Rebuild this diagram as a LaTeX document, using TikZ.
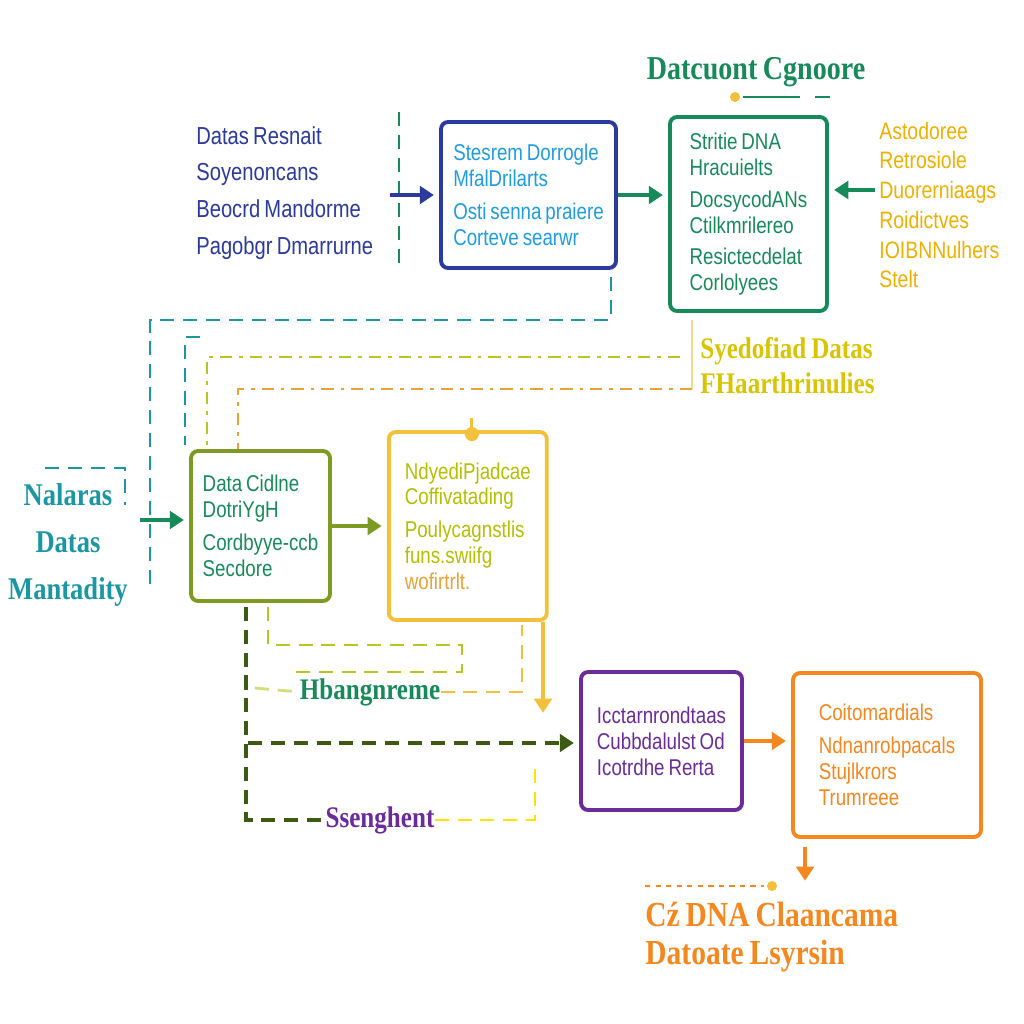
\documentclass[tikz,border=0pt]{standalone}
\usepackage{fontspec}
\usepackage{xcolor}
\usepackage{tikz}
\usetikzlibrary{calc, positioning, arrows.meta}
\setmainfont{Liberation Sans}
\newfontfamily\boxfont{Liberation Sans}[FakeStretch=0.82, WordSpace=0.75]
\newfontfamily\headfont{Liberation Serif}[FakeStretch=0.84, WordSpace=0.8]
\definecolor{dsblue}{HTML}{2B3A9C}
\definecolor{dscyan}{HTML}{1E9DE0}
\definecolor{dsgreen}{HTML}{178A5A}
\definecolor{dsteal}{HTML}{1A97A3}
\definecolor{dsolive}{HTML}{7D9B22}
\definecolor{dsdark}{HTML}{3D5A14}
\definecolor{dslime}{HTML}{B5C723}
\definecolor{dsyellow}{HTML}{F2C03A}
\definecolor{dsgold}{HTML}{F0B000}
\definecolor{dssynth}{HTML}{D8C400}
\definecolor{dspurple}{HTML}{6B2C9A}
\definecolor{dsorange}{HTML}{F5871F}
\definecolor{dsrefine}{HTML}{B3C000}
\definecolor{dswarm}{HTML}{E8A235}

\begin{document}
\begin{tikzpicture}[
  x=0.02cm, y=-0.02cm,
  box/.style={draw, rounded corners=4pt, line width=2.2pt, fill=white, inner xsep=0.2cm, inner ysep=0pt, align=left, font=\boxfont\fontsize{13}{14.7}\selectfont},
  freetxt/.style={align=left, inner sep=0pt, font=\boxfont\fontsize{14}{21}\selectfont},
  head/.style={inner sep=0pt, font=\headfont\bfseries\fontsize{17}{20}\selectfont},
  arr/.style={-{Triangle[length=8pt, width=10pt]}, line width=2.6pt, shorten >=3pt},
  dline/.style={line width=1.6pt, dash pattern=on 8pt off 5pt},
  dotline/.style={line width=1.6pt, dash pattern=on 7pt off 4pt on 2pt off 4pt}
]
\path[use as bounding box, fill=white] (0,0) rectangle (1024,1024);

\node[head, text=dsgreen, font=\headfont\bfseries\fontsize{19}{22}\selectfont] (title) at (756,72) {Datcuont Cgnoore};
\node[freetxt, text=dsblue, anchor=west] (sources) at (196,193) {Datas Resnait\\Soyenoncans\\Beocrd Mandorme\\Pagobgr Dmarrurne};

\node[box, draw=dsblue, text=dscyan, minimum width=3.5cm, minimum height=2.92cm] (engine) at (528.5,195) {Stesrem Dorrogle\\MfalDrilarts\\[4pt]Osti senna praiere\\Corteve searwr};
\node[box, draw=dsgreen, text=dsgreen, minimum width=3.14cm, minimum height=3.88cm] (dna) at (748.5,214) {Stritie DNA\\Hracuielts\\[4pt]DocsycodANs\\Ctilkmrilereo\\[3pt]Resictecdelat\\Corlolyees};
\node[freetxt, text=dsgold, anchor=west, font=\boxfont\fontsize{13.5}{16.9}\selectfont] (notes) at (879,205) {Astodoree\\Retrosiole\\Duorerniaags\\Roidictves\\IOIBNNulhers\\Stelt};

\node[head, text=dssynth, anchor=west, align=left, font=\headfont\bfseries\fontsize{17}{19.8}\selectfont] (synth) at (700,366) {Syedofiad Datas\\FHaarthrinulies};
\node[head, text=dsteal, align=center, font=\headfont\bfseries\fontsize{18}{26.6}\selectfont] (inputs) at (68,545) {Nalaras\\Datas\\Mantadity};

\node[box, draw=dsolive, text=dsgreen, minimum width=2.78cm, minimum height=3cm] (olive) at (260.5,526) {Data Cidlne\\DotriYgH\\[4pt]Cordbyye-ccb\\Secdore};
\node[box, draw=dsyellow, text=dsrefine, minimum width=3.16cm, minimum height=3.76cm, right=1.1cm of olive] (refine) {NdyediPjadcae\\Coffivatading\\[4pt]Poulycagnstlis\\funs.swiifg\\{\color{dswarm}wofirtrlt.}};

\node[head, text=dsgreen] (hbang) at (370,692) {Hbangnreme};
\node[head, text=dspurple] (ssen) at (380,820) {Ssenghent};

\node[box, draw=dspurple, text=dspurple, minimum width=3.22cm, minimum height=2.76cm] (merge) at (661.5,741) {Icctarnrondtaas\\Cubbdalulst Od\\Icotrdhe Rerta};
\node[box, draw=dsorange, text=dsorange, minimum width=3.76cm, minimum height=3.28cm] (outbox) at (887,755) {Coitomardials\\[4pt]Ndnanrobpacals\\Stujlkrors\\Trumreee};
\node[head, text=dsorange, anchor=west, align=left, font=\headfont\bfseries\fontsize{20}{22}\selectfont] (result) at (645,937) {Cź DNA Claancama\\Datoate Lsyrsin};

\coordinate (srcin) at (390,195);
\coordinate (notein) at (875,190);
\coordinate (inarr) at (140,520);
\coordinate (tealend) at (150,585);
\coordinate (split) at (248,743);
\coordinate (ydown) at (543,718);
\coordinate (odown) at (805,886);

\fill[dsyellow] (735,97) circle (0.1cm);
\draw[dsgreen, line width=1.5pt] (743,97) -- (800,97) (815,97) -- (830,97);
\draw[dline, dsgreen] (399,112) -- (399,265);

\draw[arr, dsblue] (srcin) -- (srcin -| engine.west);
\draw[arr, dsgreen] (engine) -- (engine -| dna.west);
\draw[arr, dsgreen] (notein) -- (notein -| dna.east);

\draw[dline, dsteal] ($(engine.south east)+(-7,7)$) |- (150,320) -- (tealend);
\draw[dline, dsteal] (200,337) -| (185,445);
\draw[dotline, dslime] (680,357) -| ($(olive.north west)+(18,0)$);
\draw[line width=1.2pt, dsyellow!60] (692,320) -- (692,389);
\draw[dotline, dswarm] (692,389) -| ($(olive.north west)+(49,0)$);

\draw[dline, dsteal] (45,468) -| (125,505);
\draw[arr, dsgreen] (inarr) -- (inarr -| olive.west);
\draw[arr, dsolive] (olive) -- (olive -| refine.west);
\draw[dsyellow, line width=1.8pt] ($(refine.north west)+(85,4)$) -- ++(0,-16);
\fill[dsyellow] ($(refine.north west)+(85,4)$) circle (0.14cm);
\draw[arr, dsyellow, line width=1.8pt] (ydown |- refine.south) -- (ydown);

\draw[dline, dsdark, line width=2pt] ($(olive.south west)+(57,4)$) |- (ssen.west);
\draw[arr, dsdark, dash pattern=on 8pt off 5pt] (split) -- (split -| merge.west);
\draw[dline, yellow!85!orange] (ssen.east) -| (535,765);
\draw[dline, dslime] ($(olive.south west)+(79,4)$) |- (462,645) |- (295,672);
\draw[dline, dslime!60] (255,688) -- (hbang.west);
\draw[dline, dsyellow] (hbang.east) -| (522,625);

\draw[arr, dsorange] (merge) -- (merge -| outbox.west);
\draw[arr, dsorange] ($(odown |- outbox.south)+(0,8)$) -- (odown);
\draw[dsorange, line width=1.5pt, dash pattern=on 3pt off 3pt] (645,886) -- (764,886);
\fill[dsyellow] (772,886) circle (0.1cm);

\end{tikzpicture}
\end{document}
